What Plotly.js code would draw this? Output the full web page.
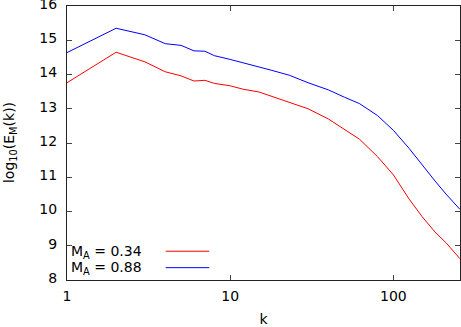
<!DOCTYPE html>
<html>
<head>
<meta charset="utf-8">
<script src="https://cdn.plot.ly/plotly-3.0.1.min.js"></script>
<style>
  html, body { margin: 0; padding: 0; background: #fff; }
  #chart { width: 461px; height: 327px; }
</style>
</head>
<body>
<div id="chart"></div>
<script>
// wavenumber k
const k = [1, 2, 3, 4, 5, 6, 7, 8, 10, 12, 15, 18, 23, 30, 40, 50, 62, 80, 100, 125, 150, 180, 210, 256];
// log10(E_M(k)) for M_A = 0.34
const logE_034 = [13.76, 14.65, 14.37, 14.08, 13.96, 13.81, 13.83, 13.74, 13.67, 13.57, 13.49, 13.36, 13.20, 13.00, 12.70, 12.40, 12.11, 11.60, 11.07, 10.36, 9.85, 9.40, 9.09, 8.62];
// log10(E_M(k)) for M_A = 0.88
const logE_088 = [14.64, 15.35, 15.16, 14.90, 14.85, 14.69, 14.68, 14.55, 14.44, 14.35, 14.22, 14.12, 13.98, 13.76, 13.55, 13.34, 13.15, 12.80, 12.37, 11.84, 11.35, 10.89, 10.51, 10.06];
const seriesNames = ['M<sub>A</sub> = 0.34', 'M<sub>A</sub> = 0.88'];
const seriesColors = ['#ff0000', '#0000ff'];
const xTickVals = [1, 10, 100];
const xMinorVals = [2, 3, 4, 5, 6, 7, 8, 9, 20, 30, 40, 50, 60, 70, 80, 90, 200];
const yTickVals = [8, 9, 10, 11, 12, 13, 14, 15, 16];
const xTitle = 'k';
const yTitle = 'log<sub>10</sub>(E<sub>M</sub>(k))';

const font = { family: 'DejaVu Sans, sans-serif', size: 14, color: '#000' };
const xRange = [0, Math.log10(256)];

const traces = [logE_034, logE_088].map((ys, i) => ({
  x: k, y: ys, type: 'scatter', mode: 'lines',
  name: seriesNames[i],
  line: { color: seriesColors[i], width: 1 },
  showlegend: false, hoverinfo: 'skip'
}));

// legend (gnuplot style: text then line sample)
const legY = [0.104, 0.044];
const annotations = seriesNames.map((t, i) => ({
  xref: 'paper', yref: 'paper', x: 0.005, y: legY[i],
  xanchor: 'left', yanchor: 'middle', text: t, showarrow: false,
  font: font
}));
annotations.push({
  xref: 'paper', yref: 'paper', x: -0.145, y: 0.5,
  xanchor: 'center', yanchor: 'middle', textangle: -90,
  text: yTitle, showarrow: false, font: font
});
const lineY = [0.105, 0.045];
const shapes = seriesColors.map((c, i) => ({
  type: 'line', xref: 'paper', yref: 'paper',
  x0: 0.251, x1: 0.362, y0: lineY[i], y1: lineY[i],
  line: { color: c, width: 1 }
}));

const axisCommon = {
  showline: true, mirror: 'ticks', linecolor: '#222', linewidth: 1,
  ticks: 'inside', ticklen: 5, tickcolor: '#444', tickwidth: 1,
  showgrid: false, zeroline: false, tickfont: font,
  ticklabeloverflow: 'allow'
};

const layout = {
  width: 461, height: 327,
  margin: { l: 67, r: 1, t: 6, b: 47 },
  paper_bgcolor: '#fff', plot_bgcolor: '#fff',
  font: font,
  xaxis: Object.assign({}, axisCommon, {
    type: 'log', range: xRange,
    tickvals: xTickVals, ticktext: xTickVals.map(String),
    ticklabelstandoff: 3,
    title: { text: xTitle, font: font, standoff: 14 }
  }),
  xaxis2: {
    type: 'log', range: xRange, overlaying: 'x', anchor: 'y', side: 'bottom',
    tickvals: xMinorVals, ticktext: xMinorVals.map(() => ''),
    ticks: 'inside', ticklen: 3, tickcolor: '#444', tickwidth: 1,
    showline: true, linecolor: '#222', mirror: 'ticks',
    showgrid: false, zeroline: false
  },
  yaxis: Object.assign({}, axisCommon, {
    range: [8, 16], tickvals: yTickVals, ticktext: yTickVals.map(String),
    ticklabelstandoff: 6, ticklabelshift: -2
  }),
  annotations: annotations,
  shapes: shapes
};

Plotly.newPlot('chart', traces, layout, { staticPlot: true, displayModeBar: false });
</script>
</body>
</html>
